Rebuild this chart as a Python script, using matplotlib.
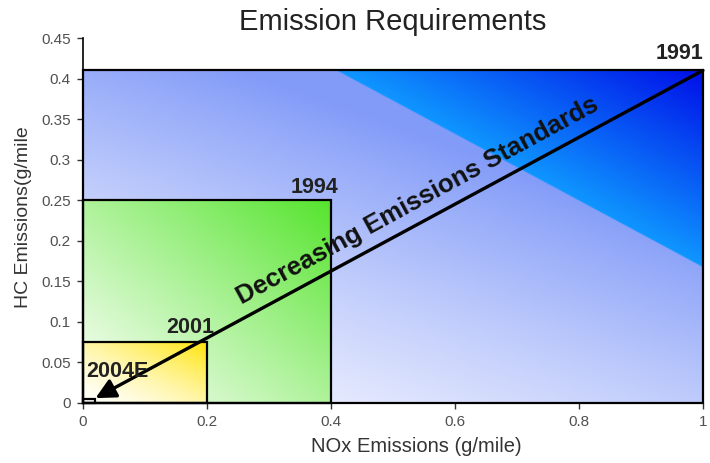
import numpy as np
import matplotlib
matplotlib.use("Agg")
import matplotlib.pyplot as plt
from matplotlib.patches import Rectangle

# emission standard boxes (NOx g/mile, HC g/mile)
years = ["1991", "1994", "2001", "2004E"]
nox = [1.0, 0.4, 0.2, 0.02]
hc = [0.41, 0.25, 0.075, 0.005]

x_ticks = [0, 0.2, 0.4, 0.6, 0.8, 1]
x_tick_labels = ["0", "0.2", "0.4", "0.6", "0.8", "1"]
y_ticks = [0, 0.05, 0.1, 0.15, 0.2, 0.25, 0.3, 0.35, 0.4, 0.45]
y_tick_labels = ["0", "0.05", "0.1", "0.15", "0.2", "0.25", "0.3", "0.35", "0.4", "0.45"]

# label offsets (pixels) from each box corner
label_offsets = [(-23, 17), (-17, 13), (-17, 15), (22, 27)]

plt.rcParams["font.family"] = ["Liberation Sans", "DejaVu Sans"]


def lerp(c0, c1, t):
    c0 = np.array(c0) / 255.0
    c1 = np.array(c1) / 255.0
    t = np.clip(t, 0, 1)[..., None]
    return c0 + (c1 - c0) * t


def grid(n=300):
    return np.meshgrid(np.linspace(0, 1, n), np.linspace(0, 1, n))


def blue_img():
    u, v = grid()
    d = (u + v) / 2
    edge = 0.705
    w = (0.4 * u + 0.6 * v) / edge
    low = lerp((246, 247, 255), (130, 155, 248), w ** 1.3)
    high = lerp((15, 150, 255), (0, 15, 232), (d - edge) / (1 - edge))
    return np.where((d < edge)[..., None], low, high)


def green_img():
    u, v = grid()
    d = (u + v) / 2
    return lerp((252, 255, 250), (85, 228, 45), d ** 1.1)


def yellow_img():
    u, v = grid()
    d = (u + v) / 2
    return lerp((255, 255, 250), (255, 228, 10), d ** 1.5)


def white_img():
    return np.ones((2, 2, 3))


fills = [blue_img(), green_img(), yellow_img(), white_img()]

fig = plt.figure(figsize=(7.1, 4.63), dpi=100)
ax = fig.add_axes([0.117, 0.1296, 0.873, 0.7883])

for i, (x, y, img) in enumerate(zip(nox, hc, fills)):
    ax.imshow(img, extent=[0, x, 0, y], origin="lower", aspect="auto",
              interpolation="bilinear", zorder=1 + i)
    ax.add_patch(Rectangle((0, 0), x, y, fill=False, edgecolor="black",
                           lw=1.6, zorder=10, clip_on=False))
    ax.annotate(years[i], (x, y), xytext=label_offsets[i], textcoords="offset pixels",
                ha="center", va="center", fontsize=15.5, fontweight="bold",
                color="#222222", zorder=12, annotation_clip=False)

# arrow from the oldest to the newest standard
ax.annotate("", xy=(nox[-1], hc[-1] + 0.001), xytext=(nox[0], hc[0]),
            arrowprops=dict(arrowstyle="-|>", lw=2.4, color="black",
                            mutation_scale=30, shrinkA=0, shrinkB=0),
            zorder=11, annotation_clip=False)

ax.text(0.540, 0.2490, "Decreasing Emissions Standards", rotation=28.6,
        rotation_mode="anchor", ha="center", va="center", fontsize=18.5,
        fontweight="bold", color="#111111", zorder=12)

ax.set_xlim(0, 1)
ax.set_ylim(0, 0.45)
ax.set_xticks(x_ticks)
ax.set_xticklabels(x_tick_labels)
ax.set_yticks(y_ticks)
ax.set_yticklabels(y_tick_labels)
ax.tick_params(direction="out", length=4, width=1, labelsize=11,
               labelcolor="#505050", color="#333333", pad=5)
for side in ["top", "right"]:
    ax.spines[side].set_visible(False)
ax.spines["left"].set_linewidth(1.2)
ax.spines["bottom"].set_linewidth(1.2)

ax.set_title("Emission Requirements", fontsize=21, color="#222222", pad=6)
ax.set_ylabel("HC Emissions(g/mile", fontsize=14, color="#333333")
ax.yaxis.set_label_coords(-0.082, 0.51)
fig.text(0.587, 0.0346, "NOx Emissions (g/mile)", fontsize=14.5, color="#333333",
         ha="center", va="center")

fig.savefig("out.png", dpi=100)
